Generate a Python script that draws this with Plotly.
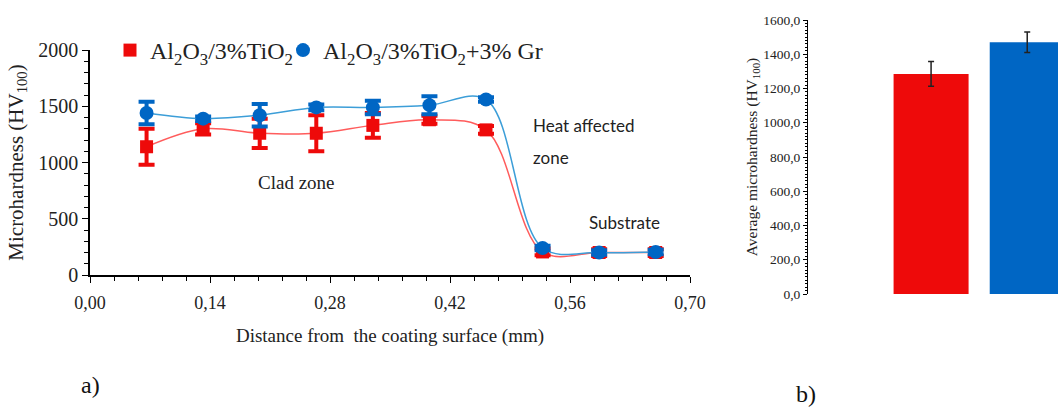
import plotly.graph_objects as go

# ---- data ----
distance_mm = [0.066, 0.132, 0.198, 0.264, 0.330, 0.396, 0.462, 0.528, 0.594, 0.660]
hv_tio2 = [1140, 1300, 1260, 1260, 1330, 1380, 1290, 205, 200, 200]
hv_tio2_err = [160, 50, 130, 160, 110, 35, 35, 30, 30, 30]
hv_gr = [1440, 1390, 1420, 1490, 1490, 1510, 1560, 240, 200, 205]
hv_gr_err = [100, 20, 100, 25, 60, 80, 20, 20, 20, 20]

bar_pos = [0, 1]
avg_hv = [1285, 1470]
avg_err = [72, 60]

name_tio2 = "Al<sub>2</sub>O<sub>3</sub>/3%TiO<sub>2</sub>"
name_gr = "Al<sub>2</sub>O<sub>3</sub>/3%TiO<sub>2</sub>+3% Gr"

RED = "#ee0a0a"
BLUE = "#0066c4"
RED_LINE = "#ff5c5c"
BLUE_LINE = "#3c9ed8"
SERIF = "Liberation Serif"
SANS = "Lato"

fig = go.Figure()

# smoothed lines
fig.add_trace(go.Scatter(x=distance_mm, y=hv_tio2, mode="lines", line=dict(color=RED_LINE, width=1.5, shape="spline", smoothing=1),
                         showlegend=False, hoverinfo="skip", xaxis="x", yaxis="y"))
fig.add_trace(go.Scatter(x=distance_mm, y=hv_gr, mode="lines", line=dict(color=BLUE_LINE, width=1.5, shape="spline", smoothing=1),
                         showlegend=False, hoverinfo="skip", xaxis="x", yaxis="y"))
# markers with error bars
fig.add_trace(go.Scatter(x=distance_mm, y=hv_tio2, mode="markers", name=name_tio2,
                         marker=dict(symbol="square", size=13, color=RED),
                         error_y=dict(type="data", array=hv_tio2_err, color=RED, thickness=4, width=8),
                         xaxis="x", yaxis="y"))
fig.add_trace(go.Scatter(x=distance_mm, y=hv_gr, mode="markers", name=name_gr,
                         marker=dict(symbol="circle", size=14, color=BLUE),
                         error_y=dict(type="data", array=hv_gr_err, color=BLUE, thickness=4, width=8),
                         xaxis="x", yaxis="y"))
# empty legend slot so the long second legend label is not clipped
fig.add_trace(go.Scatter(x=[None], y=[None], mode="markers", name=" ",
                         marker=dict(color="rgba(0,0,0,0)", size=1), hoverinfo="skip",
                         xaxis="x", yaxis="y"))

# bar chart b)
fig.add_trace(go.Bar(x=bar_pos, y=avg_hv, width=0.78, marker=dict(color=[RED, BLUE], line=dict(width=0)),
                     error_y=dict(type="data", array=avg_err, color="#222222", thickness=1.5, width=3),
                     showlegend=False, xaxis="x2", yaxis="y2"))

axis_common = dict(showline=True, linecolor="black", linewidth=1.5, ticks="outside", tickcolor="black",
                   showgrid=False, zeroline=False, automargin=False)

fig.update_layout(
    width=1058, height=408,
    margin=dict(l=0, r=0, t=0, b=0, pad=0, autoexpand=False),
    paper_bgcolor="white", plot_bgcolor="white",
    separators=", ",
    font=dict(family=SERIF, color="#222222"),
    xaxis=dict(domain=[90/1058, 690/1058], range=[0, 0.7], dtick=0.14, tickformat=".2f",
               minor=dict(dtick=0.028, ticks="outside", ticklen=4, tickcolor="black"),
               ticklen=6, ticklabelstandoff=5, tickfont=dict(size=18, family=SERIF),
               title=dict(text="Distance from  the coating surface (mm)", font=dict(size=19, family=SERIF), standoff=16),
               anchor="y", **axis_common),
    yaxis=dict(domain=[1-275/408, 1-50/408], range=[0, 2000], dtick=500,
               minor=dict(dtick=100, ticks="outside", ticklen=4, tickcolor="black"),
               ticklen=6, tickfont=dict(size=20, family=SERIF),
               title=dict(text="Microhardness (HV<sub>100</sub>)", font=dict(size=21, family=SERIF), standoff=9),
               anchor="x", **axis_common),
    xaxis2=dict(domain=[808/1058, 1.0], range=[-1.28, 1.32], showline=False, showticklabels=False, ticks="",
                showgrid=False, zeroline=False, anchor="y2", automargin=False),
    yaxis2=dict(domain=[1-294/408, 1-20/408], range=[0, 1600], dtick=200, tickformat=".1f",
                minor=dict(dtick=20, ticks="outside", ticklen=2, tickcolor="black"),
                ticklen=4, tickfont=dict(size=13.5, family=SERIF),
                title=dict(text="Average microhardness (HV<sub>100</sub>)", font=dict(size=15.5, family=SERIF), standoff=1),
                anchor="x2", showline=True, linecolor="black", linewidth=1, ticks="outside", tickcolor="black",
                showgrid=False, zeroline=False, automargin=False),
    legend=dict(orientation="h", x=110/1058, y=1-28/408, xanchor="left", yanchor="top",
                font=dict(size=24, family=SERIF, color="#222222"), bgcolor="rgba(0,0,0,0)",
                itemsizing="trace", tracegroupgap=0, itemwidth=30, entrywidth=128),
    annotations=[
        dict(text="Clad zone", x=(296-90)/600*0.7, y=(275-182)/0.1125, xref="x", yref="y", showarrow=False,
             font=dict(family=SERIF, size=19, color="#222222")),
        dict(text="Heat affected", x=0.515, y=(275-125)/0.1125, xref="x", yref="y", showarrow=False,
             xanchor="left", font=dict(family=SANS, size=17, color="#222222")),
        dict(text="zone", x=0.515, y=(275-157)/0.1125, xref="x", yref="y", showarrow=False,
             xanchor="left", font=dict(family=SANS, size=17, color="#222222")),
        dict(text="Substrate", x=0.623, y=471, xref="x", yref="y", showarrow=False,
             font=dict(family=SANS, size=17, color="#222222")),
        dict(text="a)", x=90/1058, y=1-385/408, xref="paper", yref="paper", showarrow=False,
             xanchor="center", yanchor="middle", font=dict(family=SERIF, size=24, color="#111111")),
        dict(text="b)", x=806/1058, y=1-394/408, xref="paper", yref="paper", showarrow=False,
             xanchor="center", yanchor="middle", font=dict(family=SERIF, size=24, color="#111111")),
    ],
)

fig.write_html("out.html")
